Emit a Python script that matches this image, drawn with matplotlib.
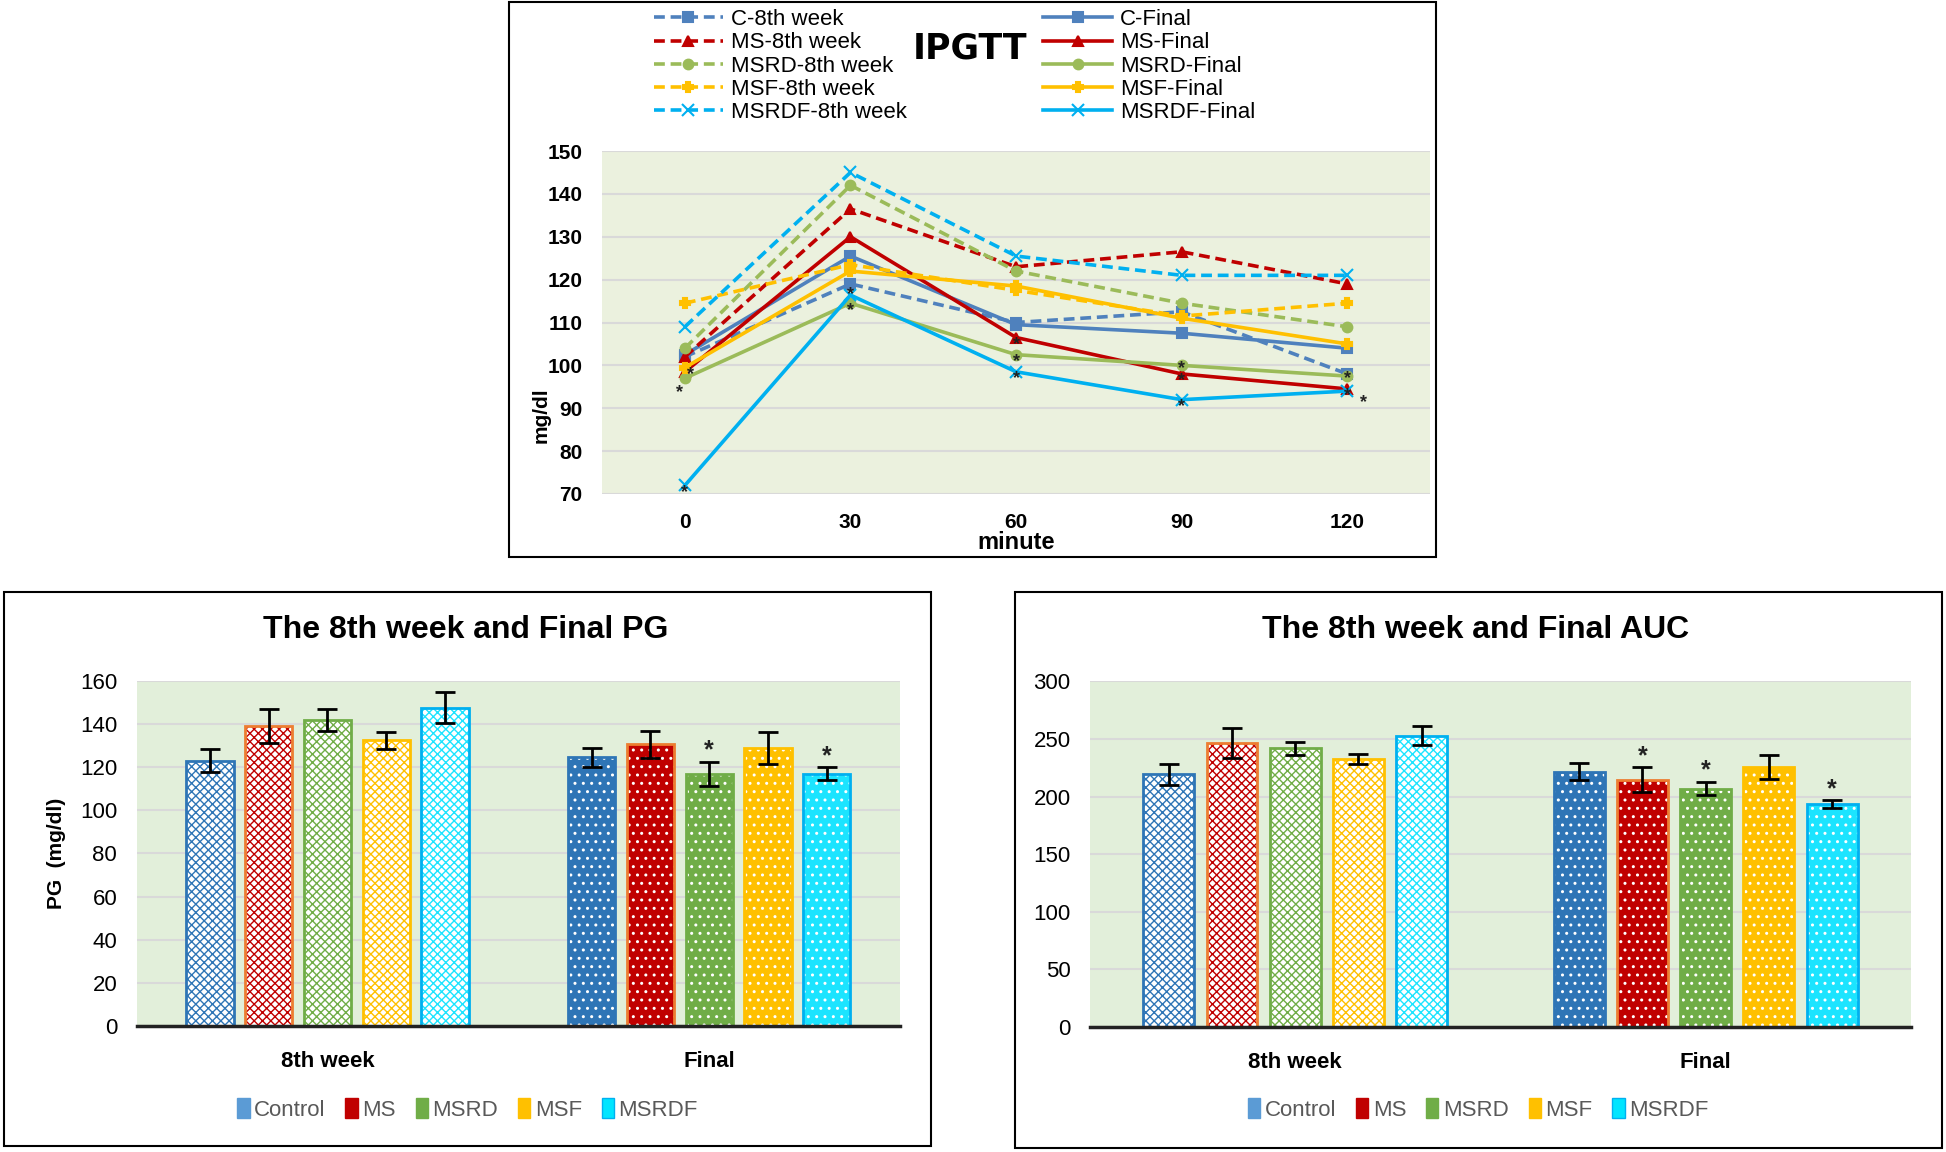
import numpy as np
import matplotlib.pyplot as plt
from matplotlib.patches import Rectangle, Patch

plt.rcParams['font.family'] = ['Liberation Sans', 'DejaVu Sans']

# IPGTT (mg/dl) at each minute
minutes = ['0', '30', '60', '90', '120']
c_8th = [102, 119, 110, 112.5, 98]
c_final = [102.5, 125.5, 109.5, 107.5, 104]
ms_8th = [102, 136.5, 123, 126.5, 119]
ms_final = [98.5, 130, 106.5, 98, 94.5]
msrd_8th = [104, 142, 122, 114.5, 109]
msrd_final = [97, 114.5, 102.5, 100, 97.5]
msf_8th = [114.5, 123.5, 117.5, 111.5, 114.5]
msf_final = [99.5, 122, 118.5, 111, 105]
msrdf_8th = [109, 145, 125.5, 121, 121]
msrdf_final = [72, 116.4, 98.5, 92, 94]
# significance marks on the final curves: (group, minute index)
ipgtt_stars = [('MSRDF', 0), ('MSRD', 0), ('MSF', 0),
               ('MSRDF', 1), ('MSRD', 1),
               ('MS', 2), ('MSRD', 2), ('MSRDF', 2),
               ('MSRD', 3), ('MS', 3), ('MSRDF', 3),
               ('MSRD', 4), ('MS', 4), ('MSRDF', 4)]

# bar charts
groups = ['Control', 'MS', 'MSRD', 'MSF', 'MSRDF']
periods = ['8th week', 'Final']
pg_8th = [123, 139, 142, 132.5, 147.5]
pg_8th_err = [5.3, 7.8, 5.2, 3.9, 7.2]
pg_final = [124.7, 130.6, 117, 129, 117]
pg_final_err = [4.4, 6.4, 5.5, 7.3, 3]
pg_stars = ['MSRD', 'MSRDF']
auc_8th = [219.5, 246.5, 242, 232.5, 253]
auc_8th_err = [9, 12.7, 5.7, 4.2, 8.2]
auc_final = [221.5, 214.5, 207, 226, 193.5]
auc_final_err = [7.4, 10.8, 5.9, 10.5, 3.3]
auc_stars = ['MS', 'MSRD', 'MSRDF']

line_cols = {'C': '#4F81BD', 'MS': '#C00000', 'MSRD': '#9BBB59', 'MSF': '#FFC000', 'MSRDF': '#00B0F0'}
bar_cols = ['#2E75B6', '#C00000', '#70AD47', '#FFC000', '#1CE4FF']
bar_edges = ['#2E75B6', '#ED7D31', '#70AD47', '#FFC000', '#00B0F0']
legend_cols = ['#5B9BD5', '#C00000', '#70AD47', '#FFC000', '#00E5FF']

fig = plt.figure(figsize=(19.46, 11.52), dpi=100)

# panel frames
for box in [(0.2616, 0.5165, 0.4764, 0.4818), (0.002, 0.0052, 0.4764, 0.481), (0.5216, 0.0035, 0.4764, 0.4826)]:
    fig.patches.append(Rectangle(box[:2], box[2], box[3], transform=fig.transFigure,
                                 fill=False, edgecolor='black', lw=1.5))

# ---------- IPGTT ----------
ax = fig.add_axes([0.3094, 0.5712, 0.4255, 0.2977])
ax.set_facecolor('#EBF1DE')
xs = np.arange(len(minutes))
series = [('C', c_8th, c_final, 's', 7), ('MS', ms_8th, ms_final, '^', 7),
          ('MSRD', msrd_8th, msrd_final, 'o', 7), ('MSF', msf_8th, msf_final, 'P', 7),
          ('MSRDF', msrdf_8th, msrdf_final, 'x', 9)]
h8, hf = [], []
for name, v8, vf, mk, ms in series:
    col = line_cols[name]
    l1, = ax.plot(xs, v8, ls=(0, (3, 1.6)), color=col, lw=2.6, marker=mk, ms=ms, mew=1.5)
    l2, = ax.plot(xs, vf, ls='-', color=col, lw=2.6, marker=mk, ms=ms, mew=1.5)
    h8.append((l1, name + '-8th week'))
    hf.append((l2, name + '-Final'))
final_map = {name: vf for name, v8, vf, mk, ms in series}
# small nudges so the marks sit as in the original
nudge = {('MSRD', 0): (-4, -10), ('MSF', 0): (4, -5), ('MSRDF', 1): (0, 0),
         ('MSRD', 3): (0, -2), ('MSRD', 4): (0, -2), ('MSRDF', 4): (12, -8)}
for name, i in ipgtt_stars:
    dx, dy = nudge.get((name, i), (0, -5))
    ax.annotate('*', (xs[i], final_map[name][i]), xytext=(dx, dy), textcoords='offset points',
                ha='center', va='center', fontsize=13, fontweight='bold', color='#222222')
ax.set_xlim(-0.5, 4.5)
ax.set_ylim(70, 150)
ax.set_yticks(np.arange(70, 151, 10))
ax.set_xticks(xs)
ax.set_xticklabels(minutes)
ax.grid(axis='y', color='#D9D9D9', lw=1.5)
ax.set_axisbelow(True)
for s in ax.spines.values():
    s.set_visible(False)
ax.tick_params(length=0, pad=14)
for t in ax.get_xticklabels() + ax.get_yticklabels():
    t.set_fontsize(15)
    t.set_fontweight('bold')
ax.set_ylabel('mg/dl', fontsize=15, fontweight='bold', labelpad=-2, y=0.23)
ax.set_xlabel('minute', fontsize=17, fontweight='bold', labelpad=-1)

leg_kw = dict(frameon=False, handlelength=3.1, handletextpad=0.35, labelspacing=0.1,
              borderpad=0, borderaxespad=0, numpoints=1, loc='upper left',
              prop={'size': 16})
fig.legend([h for h, _ in h8], [l for _, l in h8], bbox_to_anchor=(0.336, 0.992), **leg_kw)
fig.legend([h for h, _ in hf], [l for _, l in hf], bbox_to_anchor=(0.536, 0.992), **leg_kw)
fig.text(0.4985, 0.958, 'IPGTT', ha='center', va='center', fontsize=25, fontweight='bold',
         family=['DejaVu Sans'])


# ---------- bar charts ----------
def bar_panel(rect, v8, e8, vf, ef, stars, ymax, step, title, title_x, ylabel, legend_x):
    ax = fig.add_axes(rect)
    ax.set_facecolor('#E2EFDA')
    offs = (np.arange(len(groups)) - 2) * 0.154
    w = 0.124
    for k in range(len(groups)):
        # 8th week: light checker pattern
        ax.bar(0 + offs[k], v8[k], w, color='white', edgecolor=bar_cols[k], hatch='xxxx', lw=0, zorder=2)
        ax.bar(0 + offs[k], v8[k], w, fill=False, edgecolor=bar_edges[k], lw=2, zorder=3)
        # final: solid with white dots
        ax.bar(1 + offs[k], vf[k], w, color=bar_cols[k], edgecolor='white', hatch='..', lw=0, zorder=2)
        ax.bar(1 + offs[k], vf[k], w, fill=False, edgecolor=bar_edges[k], lw=2, zorder=3)
    ax.errorbar(0 + offs, v8, yerr=e8, fmt='none', ecolor='black', elinewidth=2, capsize=7, capthick=2, zorder=4)
    ax.errorbar(1 + offs, vf, yerr=ef, fmt='none', ecolor='black', elinewidth=2, capsize=7, capthick=2, zorder=4)
    for name in stars:
        k = groups.index(name)
        ax.annotate('*', (1 + offs[k], vf[k] + ef[k]), xytext=(0, 8), textcoords='offset points',
                    ha='center', va='center', fontsize=18, fontweight='bold', color='#222222')
    ax.set_xlim(-0.5, 1.5)
    ax.set_ylim(0, ymax)
    ax.set_yticks(np.arange(0, ymax + 1, step))
    ax.set_xticks([0, 1])
    ax.set_xticklabels(periods, fontsize=17, fontweight='bold')
    ax.grid(axis='y', color='#D9D9D9', lw=1.5)
    ax.set_axisbelow(True)
    for s in ['top', 'right', 'left']:
        ax.spines[s].set_visible(False)
    ax.spines['bottom'].set_linewidth(2.5)
    ax.spines['bottom'].set_color('#222222')
    ax.spines['bottom'].set_zorder(5)
    ax.tick_params(length=0, labelsize=16)
    ax.tick_params(axis='x', pad=18)
    ax.tick_params(axis='y', pad=14)
    if ylabel:
        ax.set_ylabel(ylabel, fontsize=15, fontweight='bold', labelpad=10)
    fig.text(title_x, 0.453, title, ha='center', va='center', fontsize=23, fontweight='bold')
    handles = [Patch(facecolor=legend_cols[k], edgecolor='#00B0F0' if k == 4 else legend_cols[k]) for k in range(len(groups))]
    fig.legend(handles, groups, loc='center', bbox_to_anchor=(legend_x, 0.037), ncol=5, frameon=False,
               fontsize=16, handlelength=0.55, handleheight=1.0, handletextpad=0.2, columnspacing=0.9,
               labelcolor='#595959')


bar_panel([0.0702, 0.1094, 0.3923, 0.2995], pg_8th, pg_8th_err, pg_final, pg_final_err, pg_stars,
          160, 20, 'The 8th week and Final PG', 0.2392, 'PG  (mg/dl)', 0.2403)
bar_panel([0.5601, 0.1085, 0.4219, 0.300], auc_8th, auc_8th_err, auc_final, auc_final_err, auc_stars,
          300, 50, 'The 8th week and Final AUC', 0.7583, None, 0.7596)

fig.savefig('out.png', dpi=100)
